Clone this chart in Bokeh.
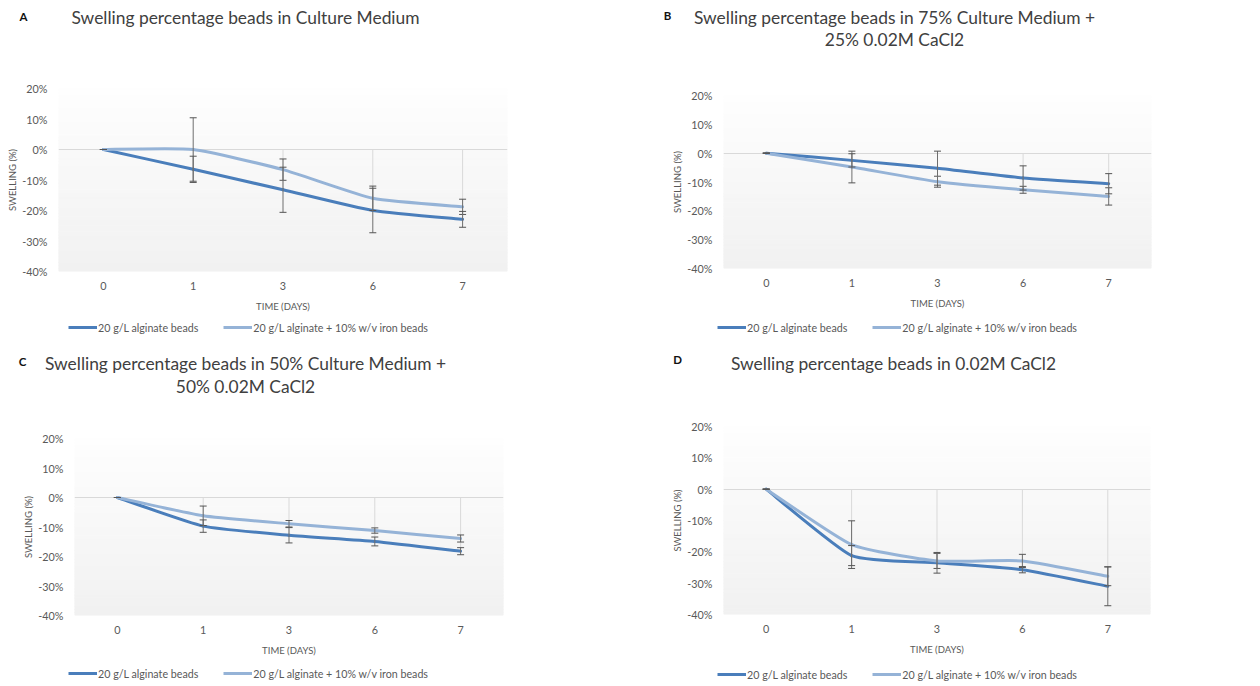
import numpy as np
from bokeh.plotting import figure
from bokeh.layouts import row, column
from bokeh.models import (Range1d, FixedTicker, Whisker, TeeHead, ColumnDataSource,
                          Legend, LegendItem, PrintfTickFormatter)
from bokeh.core.properties import value
from bokeh.embed import file_html
from bokeh.resources import INLINE

# ---------------- data ----------------
days = ["0", "1", "3", "6", "7"]
series_labels = ["20 g/L alginate beads", "20 g/L alginate + 10% w/v iron beads"]
y_ticks = [-40, -30, -20, -10, 0, 10, 20]

a_title = ["Swelling percentage beads in Culture Medium"]
a_alg = [0, -6.5, -13.2, -20.0, -22.9]
a_alg_err = [0, 4.3, 7.4, 7.3, 2.6]
a_iron = [0, 0.0, -6.6, -16.0, -18.8]
a_iron_err = [0, 10.4, 3.5, 4.0, 2.5]

b_title = ["Swelling percentage beads in 75% Culture Medium +", "25% 0.02M CaCl2"]
b_alg = [0, -2.5, -5.2, -8.6, -10.6]
b_alg_err = [0, 2.3, 5.9, 4.2, 3.5]
b_iron = [0, -4.8, -9.9, -12.7, -15.0]
b_iron_err = [0, 5.5, 1.9, 1.2, 3.0]

c_title = ["Swelling percentage beads in 50% Culture Medium +", "50% 0.02M CaCl2"]
c_alg = [0, -9.7, -12.8, -14.9, -18.2]
c_alg_err = [0, 2.1, 2.6, 1.5, 1.2]
c_iron = [0, -6.2, -8.9, -11.2, -13.9]
c_iron_err = [0, 3.3, 1.1, 0.9, 1.2]

d_title = ["Swelling percentage beads in 0.02M CaCl2"]
d_alg = [0, -21.2, -23.5, -25.7, -31.0]
d_alg_err = [0, 3.2, 3.3, 1.0, 6.2]
d_iron = [0, -17.7, -22.9, -22.9, -27.8]
d_iron_err = [0, 7.6, 2.4, 2.1, 3.0]

# ---------------- style / layout ----------------
FONT = "Lato"
DARK = "#4a7ebb"
LIGHT = "#95b3d7"
ERR = "#6e6e6e"
GREY_TXT = "#595959"
TITLE_COL = "#404040"
PAGE_W = 1260
HALF_W = 630
HEAD1_H, PLOT1_H, LEG1_H = 62, 253, 25
HEAD2_H, PLOT2_H, LEG2_H = 65, 256, 25

# plot-area borders inside each chart figure
borders = {
    "A": dict(left=58, right=123, top=26, bottom=44),
    "B": dict(left=93, right=109, top=33, bottom=47),
    "C": dict(left=74, right=127, top=33, bottom=46),
    "D": dict(left=93, right=110, top=21, bottom=47),
}
# header text anchors (x centre, y centre in header px)
title_pos = {
    "A": dict(letter=(23, 16), lines=[(245, 17)]),
    "B": dict(letter=(667, 15), lines=[(894, 17), (894, 39)]),
    "C": dict(letter=(22, 21), lines=[(245, 23), (245, 46)]),
    "D": dict(letter=(677, 19), lines=[(893, 23)]),
}
# legend left edge (px) and centre (px from top of legend strip)
legend_pos = {"A": (68, 12), "B": (717, 12), "C": (68, 12), "D": (717, 13)}


def smooth_segments(xs, ys, k=12.0):
    P = np.column_stack([xs, ys]).astype(float)
    ext = np.vstack([P[0], P, P[-1]])
    c0 = P[:-1] + (ext[2:-1] - ext[0:-3]) / k
    c1 = P[1:] - (ext[3:] - ext[1:-2]) / k
    return dict(x0=P[:-1, 0], y0=P[:-1, 1], x1=P[1:, 0], y1=P[1:, 1],
                cx0=c0[:, 0], cy0=c0[:, 1], cx1=c1[:, 0], cy1=c1[:, 1])


def blank_fig(w, h):
    f = figure(width=w, height=h, output_backend="svg", toolbar_location=None, title=None,
               x_axis_type=None, y_axis_type=None, x_range=Range1d(0, w), y_range=Range1d(h, 0),
               min_border=0)
    f.outline_line_color = None
    f.background_fill_color = "white"
    f.border_fill_color = "white"
    return f


def header(h, panels):
    f = blank_fig(PAGE_W, h)
    for letter, lines in panels:
        pos = title_pos[letter]
        lx, ly = pos["letter"]
        f.text(x=[lx], y=[ly], text=[letter], text_align="center", text_baseline="middle",
               text_font=value(FONT), text_font_size="11.5px", text_font_style="bold",
               text_color="#111111")
        f.text(x=[q[0] for q in pos["lines"]], y=[q[1] for q in pos["lines"]], text=lines,
               text_align="center", text_baseline="middle", text_font=value(FONT),
               text_font_size="17.4px", text_color=TITLE_COL)
    return f


def legend_strip(h, letters):
    f = blank_fig(PAGE_W, h)
    for letter in letters:
        lx, lc = legend_pos[letter]
        r1 = f.line(x=[np.nan, np.nan], y=[np.nan, np.nan], line_color=DARK, line_width=3)
        r2 = f.line(x=[np.nan, np.nan], y=[np.nan, np.nan], line_color=LIGHT, line_width=3)
        hh = 16
        leg = Legend(items=[LegendItem(label=value(series_labels[0]), renderers=[r1]),
                            LegendItem(label=value(series_labels[1]), renderers=[r2])],
                     orientation="horizontal", location=(lx, h - lc - hh / 2),
                     glyph_width=29, glyph_height=hh, label_height=hh,
                     label_standoff=1, spacing=25,
                     padding=0, margin=0, border_line_color=None, background_fill_alpha=0,
                     label_text_font=FONT, label_text_font_size="10.7px",
                     label_text_color=GREY_TXT)
        f.add_layout(leg, "center")
    return f


def make_panel(letter, h, alg, alg_err, iron, iron_err):
    b = borders[letter]
    n = len(days)
    xs = np.arange(n)
    p = figure(width=HALF_W, height=h, output_backend="svg", toolbar_location=None,
               title=None, x_range=Range1d(-0.5, n - 0.5), y_range=Range1d(-40, 20),
               min_border_left=b["left"], min_border_right=b["right"],
               min_border_top=b["top"], min_border_bottom=b["bottom"])
    p.outline_line_color = None
    p.background_fill_color = "white"
    p.border_fill_color = "white"

    # gradient plot-area background
    edges = np.linspace(-40, 20, 61)
    t = (edges[:-1] + 40) / 60.0
    c_bot = np.array([241, 241, 241])
    c_top = np.array([254, 254, 254])
    cols = ["#%02x%02x%02x" % tuple(int(round(v)) for v in (c_bot + (c_top - c_bot) * tt)) for tt in t]
    gr = p.quad(left=-0.5, right=n - 0.5, bottom=edges[:-1], top=edges[1:],
                fill_color=cols, line_color=cols, line_width=1)
    gr.level = "image"

    p.xgrid.visible = False
    p.ygrid.ticker = FixedTicker(ticks=[0])
    p.ygrid.grid_line_color = "#d9d9d9"
    p.ygrid.grid_line_width = 1

    for ax in (p.xaxis[0], p.yaxis[0]):
        ax.axis_line_color = None
        ax.major_tick_line_color = None
        ax.minor_tick_line_color = None
        ax.major_tick_out = 0
        ax.major_tick_in = 0
        ax.major_label_text_font = FONT
        ax.major_label_text_font_size = "10.8px"
        ax.major_label_text_color = GREY_TXT
        ax.axis_label_text_font = FONT
        ax.axis_label_text_font_size = "9.5px"
        ax.axis_label_text_font_style = "normal"
        ax.axis_label_text_color = GREY_TXT

    p.xaxis.ticker = FixedTicker(ticks=list(range(n)))
    p.xaxis.major_label_overrides = {i: d for i, d in enumerate(days)}
    p.xaxis.major_label_standoff = 10
    p.xaxis.axis_label = "TIME (DAYS)"
    p.xaxis.axis_label_standoff = 8

    p.yaxis.ticker = FixedTicker(ticks=y_ticks)
    p.yaxis.formatter = PrintfTickFormatter(format="%d%%")
    p.yaxis.major_label_standoff = 11
    p.yaxis.axis_label = "SWELLING (%)"
    p.yaxis.axis_label_standoff = 1

    # drop lines from 0 to the lowest point
    low = np.minimum(np.array(alg, float), np.array(iron, float))
    p.segment(x0=xs[1:], y0=np.zeros(n - 1), x1=xs[1:], y1=low[1:],
              line_color="#d9d9d9", line_width=1)

    # smoothed series
    for vals, col in ((alg, DARK), (iron, LIGHT)):
        p.bezier(source=ColumnDataSource(smooth_segments(xs, vals)),
                 x0="x0", y0="y0", x1="x1", y1="y1", cx0="cx0", cy0="cy0", cx1="cx1", cy1="cy1",
                 line_color=col, line_width=3, line_cap="round")

    # error bars
    for vals, errs in ((iron, iron_err), (alg, alg_err)):
        v = np.array(vals, float)
        e = np.array(errs, float)
        src = ColumnDataSource(dict(x=xs, upper=v + e, lower=v - e))
        w = Whisker(base="x", upper="upper", lower="lower", source=src,
                    line_color=ERR, line_width=1,
                    upper_head=TeeHead(size=7, line_color="#555555", line_width=1),
                    lower_head=TeeHead(size=7, line_color="#555555", line_width=1))
        w.level = "overlay"
        p.add_layout(w)
    return p


pa = make_panel("A", PLOT1_H, a_alg, a_alg_err, a_iron, a_iron_err)
pb = make_panel("B", PLOT1_H, b_alg, b_alg_err, b_iron, b_iron_err)
pc = make_panel("C", PLOT2_H, c_alg, c_alg_err, c_iron, c_iron_err)
pd = make_panel("D", PLOT2_H, d_alg, d_alg_err, d_iron, d_iron_err)

h1 = header(HEAD1_H, [("A", a_title), ("B", b_title)])
l1 = legend_strip(LEG1_H, ["A", "B"])
h2 = header(HEAD2_H, [("C", c_title), ("D", d_title)])
l2 = legend_strip(LEG2_H, ["C", "D"])

layout = column(h1, row(column(pa), column(pb)), l1,
                h2, row(column(pc), column(pd)), l2)
open("out.html", "w").write(file_html(layout, INLINE))
